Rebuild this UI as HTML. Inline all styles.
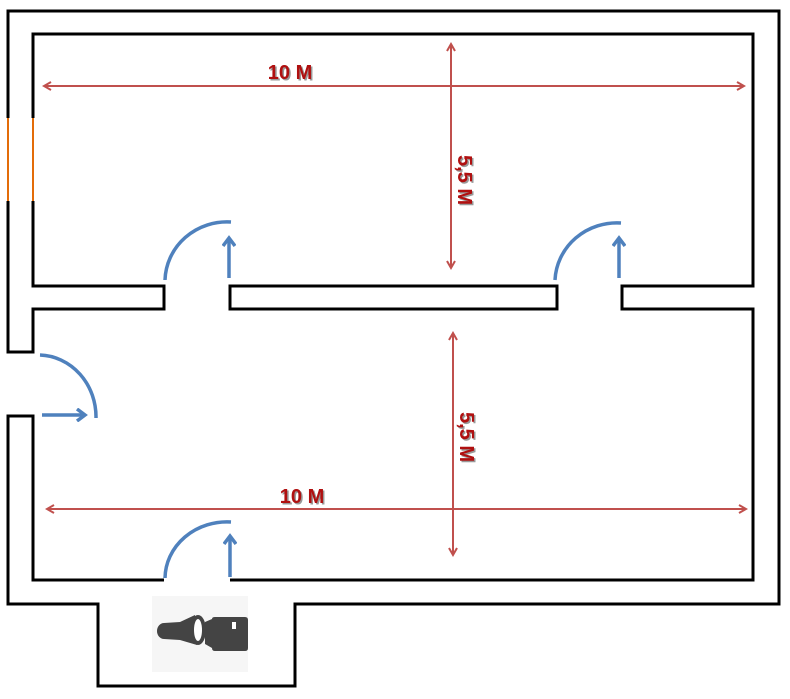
<!DOCTYPE html>
<html><head><style>html,body{margin:0;padding:0;background:#fff}svg{display:block}</style></head><body>
<svg width="790" height="699" viewBox="0 0 790 699" xmlns="http://www.w3.org/2000/svg">
<defs>
<marker id="ra" markerWidth="10" markerHeight="10" refX="8" refY="5" orient="auto-start-reverse" markerUnits="userSpaceOnUse"><path d="M1,1 L8,5 L1,9" fill="none" stroke="#c0504d" stroke-width="2"/></marker>
<marker id="ba" markerWidth="14" markerHeight="14" refX="10" refY="7" orient="auto" markerUnits="userSpaceOnUse"><path d="M2,1 L10,7 L2,13" fill="none" stroke="#4f81bd" stroke-width="3.5"/></marker>
</defs>
<g fill="none" stroke="#000" stroke-width="3">
<path d="M8,118 V11 H779 V604 H295 V686 H98 V604 H8 V416 H33 V580 H164"/>
<path d="M230,580 H753 V309 H622 V286 H753 V34 H33 V118"/>
<path d="M33,201 V286 H164 V309 H33 V352 H8 V201"/>
<path d="M230,286 H557 V309 H230 Z"/>
</g>
<g stroke="#e36c09" stroke-width="2"><line x1="8" y1="118" x2="8" y2="201"/><line x1="33" y1="118" x2="33" y2="201"/></g>
<g fill="none" stroke="#c0504d" stroke-width="2">
<line x1="44" y1="86" x2="744" y2="86" marker-start="url(#ra)" marker-end="url(#ra)"/>
<line x1="451" y1="44" x2="451" y2="268" marker-start="url(#ra)" marker-end="url(#ra)"/>
<line x1="47" y1="509" x2="746" y2="509" marker-start="url(#ra)" marker-end="url(#ra)"/>
<line x1="453" y1="333" x2="453" y2="555" marker-start="url(#ra)" marker-end="url(#ra)"/>
</g>
<g font-family="Liberation Sans, sans-serif" font-weight="bold" font-size="20">
<g fill="#999" transform="translate(1.5,1.5)">
<text x="290" y="79" text-anchor="middle">10 M</text>
<text x="302" y="503" text-anchor="middle">10 M</text>
<text transform="translate(458,180) rotate(90)" text-anchor="middle">5,5 M</text>
<text transform="translate(460,437) rotate(90)" text-anchor="middle">5,5 M</text>
</g>
<g fill="#b01010">
<text x="290" y="79" text-anchor="middle">10 M</text>
<text x="302" y="503" text-anchor="middle">10 M</text>
<text transform="translate(458,180) rotate(90)" text-anchor="middle">5,5 M</text>
<text transform="translate(460,437) rotate(90)" text-anchor="middle">5,5 M</text>
</g>
</g>
<g fill="none" stroke="#4f81bd" stroke-width="3.5">
<path d="M165,280 A62,60 0 0 1 231,222"/>
<line x1="229" y1="278" x2="229" y2="238" marker-end="url(#ba)"/>
<path d="M555,280 A62,60 0 0 1 621,223"/>
<line x1="619" y1="278" x2="619" y2="238" marker-end="url(#ba)"/>
<path d="M40,355 A58,62 0 0 1 96,418"/>
<line x1="42" y1="415" x2="85" y2="415" marker-end="url(#ba)"/>
<path d="M165,578 A62,57 0 0 1 231,522"/>
<line x1="230" y1="577" x2="230" y2="536" marker-end="url(#ba)"/>
</g>
<rect x="152" y="596" width="96" height="76" fill="#f6f6f6"/>
<g fill="#444">
<ellipse cx="164" cy="631" rx="7" ry="8"/>
<path d="M164,623 L180,622 L195,615 L197,645 L180,640 L164,639 Z"/>
<ellipse cx="198" cy="630" rx="8" ry="15"/>
<ellipse cx="198" cy="630" rx="4" ry="11" fill="#fff"/>
<path d="M205,622 L212,619 Q212,617 215,617 H245 Q248,617 248,620 V648 Q248,651 245,651 H215 Q212,651 212,648 L205,644 Z"/>
<rect x="232" y="622" width="4" height="7" fill="#fff"/>
</g>
</svg>
</body></html>
